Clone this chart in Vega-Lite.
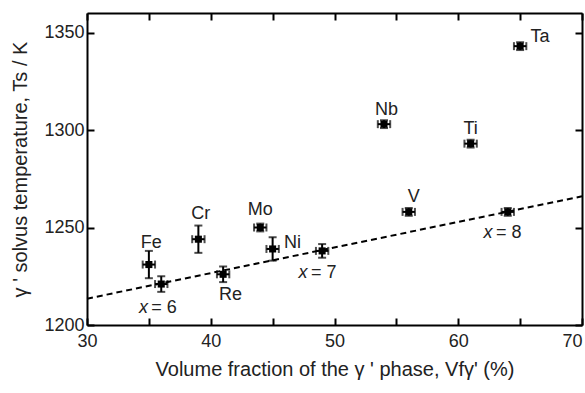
{
  "$schema": "https://vega.github.io/schema/vega-lite/v6.json",
  "width": 495,
  "height": 312,
  "autosize": {"type": "none"},
  "padding": {"left": 87, "top": 13, "right": 3, "bottom": 68},
  "background": "white",
  "config": {
    "view": {"stroke": null},
    "font": "Liberation Sans",
    "axis": {
      "domainColor": "black",
      "domainWidth": 2,
      "tickColor": "black",
      "tickWidth": 2,
      "tickSize": -7,
      "grid": false,
      "labelFont": "Liberation Sans",
      "labelFontSize": 18,
      "labelColor": "#222",
      "titleFont": "Liberation Sans",
      "titleFontSize": 20,
      "titleFontWeight": "normal",
      "titleColor": "#222"
    }
  },
  "datasets": {
    "pts": [
      {"el": "Fe", "v": 35, "t": 1231, "v_lo": 34.5, "v_hi": 35.5, "t_lo": 1224, "t_hi": 1238},
      {"el": "x=6", "v": 36, "t": 1221, "v_lo": 35.5, "v_hi": 36.5, "t_lo": 1217, "t_hi": 1225},
      {"el": "Cr", "v": 39, "t": 1244, "v_lo": 38.5, "v_hi": 39.5, "t_lo": 1237, "t_hi": 1251},
      {"el": "Re", "v": 41, "t": 1226, "v_lo": 40.5, "v_hi": 41.5, "t_lo": 1222, "t_hi": 1230},
      {"el": "Mo", "v": 44, "t": 1250, "v_lo": 43.5, "v_hi": 44.5, "t_lo": 1248, "t_hi": 1252},
      {"el": "Ni", "v": 45, "t": 1239, "v_lo": 44.5, "v_hi": 45.5, "t_lo": 1233, "t_hi": 1245},
      {"el": "x=7", "v": 49, "t": 1238, "v_lo": 48.5, "v_hi": 49.5, "t_lo": 1234.5, "t_hi": 1241.5},
      {"el": "Nb", "v": 54, "t": 1303, "v_lo": 53.5, "v_hi": 54.5, "t_lo": 1301, "t_hi": 1305},
      {"el": "V", "v": 56, "t": 1258, "v_lo": 55.5, "v_hi": 56.5, "t_lo": 1256, "t_hi": 1260},
      {"el": "Ti", "v": 61, "t": 1293, "v_lo": 60.5, "v_hi": 61.5, "t_lo": 1291, "t_hi": 1295},
      {"el": "x=8", "v": 64, "t": 1258, "v_lo": 63.5, "v_hi": 64.5, "t_lo": 1256, "t_hi": 1260},
      {"el": "Ta", "v": 65, "t": 1343, "v_lo": 64.5, "v_hi": 65.5, "t_lo": 1341, "t_hi": 1345}
    ],
    "fit": [
      {"v": 30, "t": 1213.5},
      {"v": 70, "t": 1266}
    ],
    "labels": [
      {"text": "Fe", "lv": 35.2, "lt": 1242.2},
      {"text": "Cr", "lv": 39.2, "lt": 1256.8},
      {"text": "Mo", "lv": 44.0, "lt": 1259.2},
      {"text": "Ni", "lv": 46.6, "lt": 1242},
      {"text": "Re", "lv": 41.6, "lt": 1215.4},
      {"text": "Nb", "lv": 54.2, "lt": 1310.3},
      {"text": "Ti", "lv": 61.0, "lt": 1300.5},
      {"text": "V", "lv": 56.4, "lt": 1265.8},
      {"text": "Ta", "lv": 66.6, "lt": 1347.5}
    ],
    "xlabels": [
      {"xv": 34.2, "ev": 35.2, "lt": 1208.9, "text": "= 6"},
      {"xv": 47.1, "ev": 48.1, "lt": 1226.5, "text": "= 7"},
      {"xv": 62.05, "ev": 63.05, "lt": 1247, "text": "= 8"}
    ]
  },
  "layer": [
    {
      "data": {"name": "pts"},
      "mark": {"type": "errorbar", "ticks": {"size": 8}, "thickness": 2, "color": "black"},
      "encoding": {
        "x": {
          "field": "v", "type": "quantitative",
          "scale": {"domain": [30, 70], "nice": false, "zero": false},
          "axis": {
            "orient": "bottom",
            "values": [30, 35, 40, 45, 50, 55, 60, 65, 70],
            "labelExpr": "datum.value % 10 === 0 ? datum.label : ''",
            "labelAlign": {"condition": {"test": "datum.value === 70", "value": "right"}, "value": "center"},
            "labelPadding": 14,
            "labelFlush": false,
            "title": "Volume fraction of the γ ' phase, Vfγ' (%)",
            "titlePadding": 9
          }
        },
        "y": {
          "field": "t_lo", "type": "quantitative",
          "scale": {"domain": [1200, 1360], "nice": false, "zero": false},
          "axis": {
            "orient": "left",
            "values": [1200, 1250, 1300, 1350],
            "format": "d",
            "labelPadding": 10,
            "labelFlush": false,
            "title": "γ ' solvus temperature, Ts / K",
            "titlePadding": 13
          }
        },
        "y2": {"field": "t_hi"}
      }
    },
    {
      "data": {"name": "fit"},
      "mark": {"type": "line", "color": "black", "strokeWidth": 2, "strokeDash": [6, 4]},
      "encoding": {
        "x": {
          "field": "v", "type": "quantitative",
          "axis": {"orient": "top", "values": [30, 35, 40, 45, 50, 55, 60, 65, 70], "labels": false, "title": null}
        },
        "y": {
          "field": "t", "type": "quantitative",
          "axis": {"orient": "right", "values": [1200, 1250, 1300, 1350], "labels": false, "title": null}
        }
      }
    },
    {
      "data": {"name": "pts"},
      "mark": {"type": "errorbar", "ticks": {"size": 8}, "thickness": 2, "color": "black"},
      "encoding": {
        "x": {"field": "v_lo", "type": "quantitative", "axis": null},
        "x2": {"field": "v_hi"},
        "y": {"field": "t", "type": "quantitative", "axis": null}
      }
    },
    {
      "data": {"name": "pts"},
      "mark": {"type": "point", "shape": "square", "filled": true, "size": 50, "color": "black", "opacity": 1},
      "encoding": {
        "x": {"field": "v", "type": "quantitative", "axis": null},
        "y": {"field": "t", "type": "quantitative", "axis": null}
      }
    },
    {
      "data": {"name": "labels"},
      "mark": {"type": "text", "fontSize": 18, "color": "#222", "align": "center", "baseline": "middle", "font": "Liberation Sans"},
      "encoding": {
        "x": {"field": "lv", "type": "quantitative", "axis": null},
        "y": {"field": "lt", "type": "quantitative", "axis": null},
        "text": {"field": "text"}
      }
    },
    {
      "data": {"name": "xlabels"},
      "mark": {"type": "text", "fontSize": 18, "color": "#222", "align": "left", "baseline": "middle", "fontStyle": "italic", "font": "Liberation Sans"},
      "encoding": {
        "x": {"field": "xv", "type": "quantitative", "axis": null},
        "y": {"field": "lt", "type": "quantitative", "axis": null},
        "text": {"value": "x"}
      }
    },
    {
      "data": {"name": "xlabels"},
      "mark": {"type": "text", "fontSize": 18, "color": "#222", "align": "left", "baseline": "middle", "font": "Liberation Sans"},
      "encoding": {
        "x": {"field": "ev", "type": "quantitative", "axis": null},
        "y": {"field": "lt", "type": "quantitative", "axis": null},
        "text": {"field": "text"}
      }
    }
  ]
}
